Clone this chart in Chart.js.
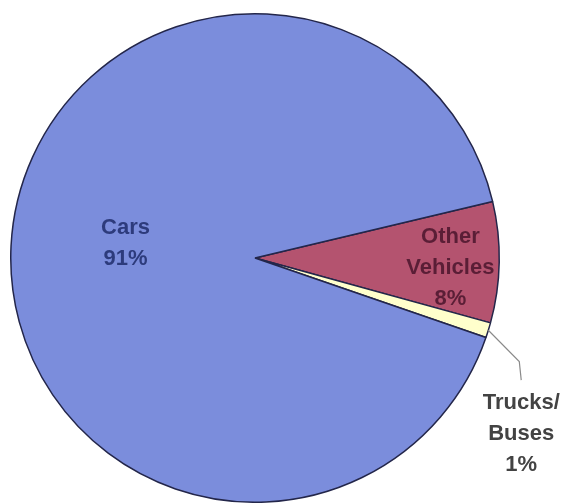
<!DOCTYPE html>
<html>
<head>
<meta charset="utf-8">
<script src="https://cdn.jsdelivr.net/npm/chart.js@4/dist/chart.umd.min.js"></script>
<style>
  html, body { margin: 0; padding: 0; background: #fff; }
  .chart-wrap { position: relative; width: 567px; height: 503px; }
</style>
</head>
<body>
<div class="chart-wrap"><canvas id="pie"></canvas></div>
<script>
const labels = ['Other Vehicles', 'Trucks/ Buses', 'Cars'];
const shares = [8, 1, 91];
const textLines = [['Other', 'Vehicles', '8%'], ['Trucks/', 'Buses', '1%'], ['Cars', '91%']];
const sliceColors = ['#b4536f', '#ffffcc', '#7b8ddc'];
const textColors = ['#5a1e36', '#434343', '#2d3b7c'];

// label centres, in units of the pie radius, measured from the pie centre
const labelAt = [[0.80, 0.042], [1.09, 0.72], [-0.53, -0.06]];
// leader line for the small slice: elbow and end, same units
const leader = [[1.082, 0.424], [1.09, 0.5]];

const sliceLabels = {
  id: 'sliceLabels',
  afterDatasetsDraw(chart) {
    const ctx = chart.ctx;
    const arcs = chart.getDatasetMeta(0).data;
    ctx.save();
    ctx.font = "bold 22px 'Liberation Sans', Arial, sans-serif";
    ctx.textAlign = 'center';
    ctx.textBaseline = 'middle';
    arcs.forEach((arc, i) => {
      const { x, y, outerRadius: r } = arc.getProps(['x', 'y', 'outerRadius'], true);
      if (i === 1) {
        const mid = (arc.startAngle + arc.endAngle) / 2;
        ctx.strokeStyle = '#8a8a8a';
        ctx.lineWidth = 1.2;
        ctx.beginPath();
        ctx.moveTo(x + Math.cos(mid) * r, y + Math.sin(mid) * r);
        leader.forEach(([fx, fy]) => ctx.lineTo(x + fx * r, y + fy * r));
        ctx.stroke();
      }
      const lines = textLines[i];
      const cx = x + labelAt[i][0] * r;
      const cy = y + labelAt[i][1] * r;
      const lh = 31;
      ctx.fillStyle = textColors[i];
      lines.forEach((t, k) => {
        ctx.fillText(t, cx, cy + (k - (lines.length - 1) / 2) * lh);
      });
    });
    ctx.restore();
  },
};

new Chart(document.getElementById('pie'), {
  type: 'pie',
  data: {
    labels,
    datasets: [{
      data: shares,
      backgroundColor: sliceColors,
      borderColor: '#23264a',
      borderWidth: 1.5,
    }],
  },
  options: {
    responsive: true,
    maintainAspectRatio: false,
    animation: false,
    rotation: 76.6,
    layout: { padding: { left: 10, top: 13, right: 67, bottom: 0 } },
    plugins: { legend: { display: false }, tooltip: { enabled: false } },
  },
  plugins: [sliceLabels],
});
</script>
</body>
</html>
